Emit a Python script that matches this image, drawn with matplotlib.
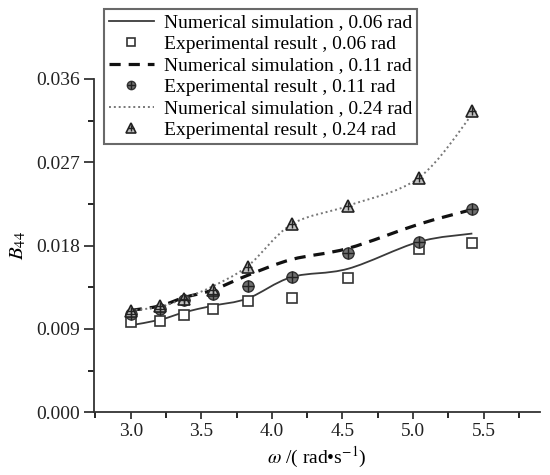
import numpy as np
import matplotlib
matplotlib.use('Agg')
import matplotlib.pyplot as plt
from matplotlib.path import Path
from matplotlib.patches import PathPatch
from matplotlib.lines import Line2D
from matplotlib.ticker import MultipleLocator

plt.rcParams['font.family'] = ['Liberation Serif', 'Noto Sans CJK SC']
plt.rcParams['mathtext.fontset'] = 'stix'

# 数据
omega = [3.0, 3.21, 3.38, 3.58, 3.83, 4.14, 4.54, 5.04, 5.42]
sim06 = [0.0094, 0.0100, 0.0108, 0.0115, 0.0123, 0.0146, 0.0155, 0.0184, 0.0193]
exp06 = [0.0098, 0.0099, 0.0105, 0.0111, 0.0120, 0.0123, 0.0145, 0.0176, 0.0183]
sim11 = [0.0110, 0.0115, 0.0124, 0.0132, 0.0148, 0.0165, 0.0177, 0.0203, 0.0219]
exp11 = [0.0106, 0.0111, 0.0121, 0.0128, 0.0136, 0.0146, 0.0172, 0.0184, 0.0220]
sim24 = [0.0110, 0.0114, 0.0123, 0.0136, 0.0158, 0.0203, 0.0223, 0.0253, 0.0322]
exp24 = [0.0109, 0.0115, 0.0122, 0.0132, 0.0157, 0.0203, 0.0223, 0.0253, 0.0325]

labels = ['Numerical simulation , 0.06 rad', 'Experimental result , 0.06 rad',
          'Numerical simulation , 0.11 rad', 'Experimental result , 0.11 rad',
          'Numerical simulation , 0.24 rad', 'Experimental result , 0.24 rad']


def smooth_path(xs, ys):
    # Catmull-Rom 曲线 -> 三次 Bezier
    p = np.column_stack([xs, ys])
    verts = [p[0]]
    codes = [Path.MOVETO]
    n = len(p)
    for i in range(n - 1):
        p0 = p[i - 1] if i > 0 else p[i]
        p3 = p[i + 2] if i + 2 < n else p[i + 1]
        c1 = p[i] + (p[i + 1] - p0) / 6
        c2 = p[i + 1] - (p3 - p[i]) / 6
        verts += [c1, c2, p[i + 1]]
        codes += [Path.CURVE4] * 3
    return Path(verts, codes)


fig = plt.figure(figsize=(5.5, 4.75), dpi=100)
ax = fig.add_axes([0.171, 0.132, 0.811, 0.702])

line_styles = [
    dict(color='#3a3a3a', lw=1.3, ls='-'),
    dict(color='#111111', lw=2.3, ls=(0, (3.5, 2.5))),
    dict(color='#777777', lw=1.4, ls=(0, (1, 1.5))),
]
for ys, st in zip([sim06, sim11, sim24], line_styles):
    ax.add_patch(PathPatch(smooth_path(omega, ys), fill=False, edgecolor=st['color'],
                           lw=st['lw'], ls=st['ls'], zorder=2))

ax.plot(omega, exp06, ls='none', marker='s', ms=7, mfc='white', mec='#333333', mew=1.2, zorder=3)
ax.plot(omega, exp11, ls='none', marker='o', ms=8, mfc='#707070', mec='#333333', mew=1.0, zorder=3)
ax.plot(omega, exp11, ls='none', marker='+', ms=8, mec='#222222', mew=1.0, zorder=4)
ax.plot(omega, exp24, ls='none', marker='^', ms=8, mfc='#c0c0c0', mec='#222222', mew=1.2, zorder=3)
ax.plot(omega, exp24, ls='none', marker='+', ms=6, mec='#222222', mew=1.0, zorder=4)

ax.set_xlim(2.74, 5.9)
ax.set_ylim(0, 0.036)
ax.set_xticks([3.0, 3.5, 4.0, 4.5, 5.0, 5.5])
ax.set_yticks([0.0, 0.009, 0.018, 0.027, 0.036])
ax.set_yticklabels(['0.000', '0.009', '0.018', '0.027', '0.036'])
ax.xaxis.set_minor_locator(MultipleLocator(0.25))
ax.yaxis.set_minor_locator(MultipleLocator(0.0045))
ax.tick_params(which='major', direction='out', length=5, width=1.2, labelsize=14,
               colors='#222222', pad=3)
ax.tick_params(which='minor', direction='out', length=4, width=1.2)
ax.tick_params(axis='y', which='major', length=7)
for s in ['top', 'right']:
    ax.spines[s].set_visible(False)
for s in ['left', 'bottom']:
    ax.spines[s].set_linewidth(1.3)
    ax.spines[s].set_color('#333333')

ax.set_xlabel(r'$\omega$ /( rad•s$^{-1}$)', fontsize=14, labelpad=3)
ax.set_ylabel(r'$B_{44}$', fontsize=15, labelpad=6)

# 图例
h = [
    Line2D([], [], **line_styles[0]),
    Line2D([], [], ls='none', marker='s', ms=6, mfc='white', mec='#333333', mew=1.2),
    Line2D([], [], **line_styles[1]),
    (Line2D([], [], ls='none', marker='o', ms=6, mfc='#707070', mec='#333333'),
     Line2D([], [], ls='none', marker='+', ms=6, mec='#222222')),
    Line2D([], [], **line_styles[2]),
    (Line2D([], [], ls='none', marker='^', ms=7, mfc='#c0c0c0', mec='#222222', mew=1.2),
     Line2D([], [], ls='none', marker='+', ms=5, mec='#222222')),
]
leg = fig.legend(h, labels, loc='upper left', bbox_to_anchor=(0.189, 0.981),
                 fontsize=14, frameon=True, fancybox=False, handlelength=2.3,
                 handletextpad=0.55, labelspacing=0.2, borderpad=0.25, borderaxespad=0)
leg.get_frame().set_edgecolor('#444444')
leg.get_frame().set_linewidth(1.5)

plt.savefig('out.png', dpi=100)
